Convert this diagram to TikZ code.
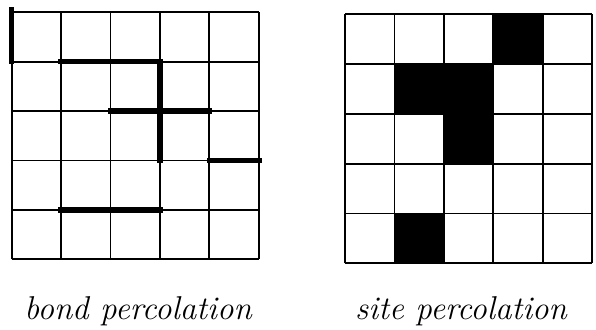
\documentclass[tikz,border=0pt]{standalone}
\usepackage{tikz}
\usetikzlibrary{calc}

\begin{document}
\begin{tikzpicture}[x=1pt,y=1pt,
  gridline/.style={line width=1.8pt},
  bond/.style={line width=5.5pt,line cap=rect},
  label/.style={font=\fontsize{33}{36}\selectfont\itshape,anchor=base}]
  \useasboundingbox (0,0) rectangle (596,329);
  % bond lattice
  \begin{scope}[shift={(11.7,69.7)},x=49.4pt,y=49.4pt]
    \foreach \i in {0,...,5} {
      \draw[gridline] (\i,0) -- (\i,5);
      \draw[gridline] (0,\i) -- (5,\i);
    }
    \draw[bond] (0,5.05) -- (0,4);
    \draw[bond] (1,4) -- (3,4);
    \draw[bond] (3,4) -- (3,2);
    \draw[bond] (2,3) -- (4,3);
    \draw[bond] (4,2) -- (5.02,2);
    \draw[bond] (1,1) -- (3,1);
  \end{scope}
  % site lattice
  \begin{scope}[shift={(345,65.7)},x=49.46pt,y=49.8pt]
    \foreach \c/\r in {3/4,1/3,2/3,2/2,1/0}
      \fill (\c,\r) rectangle ++(1,1);
    \foreach \i in {0,...,5} {
      \draw[gridline] (\i,0) -- (\i,5);
      \draw[gridline] (0,\i) -- (5,\i);
    }
  \end{scope}
  \node[label] (bondlabel) at (138,10) {bond percolation};
  \node[label] (sitelabel) at (461,10) {site percolation};
\end{tikzpicture}
\end{document}
